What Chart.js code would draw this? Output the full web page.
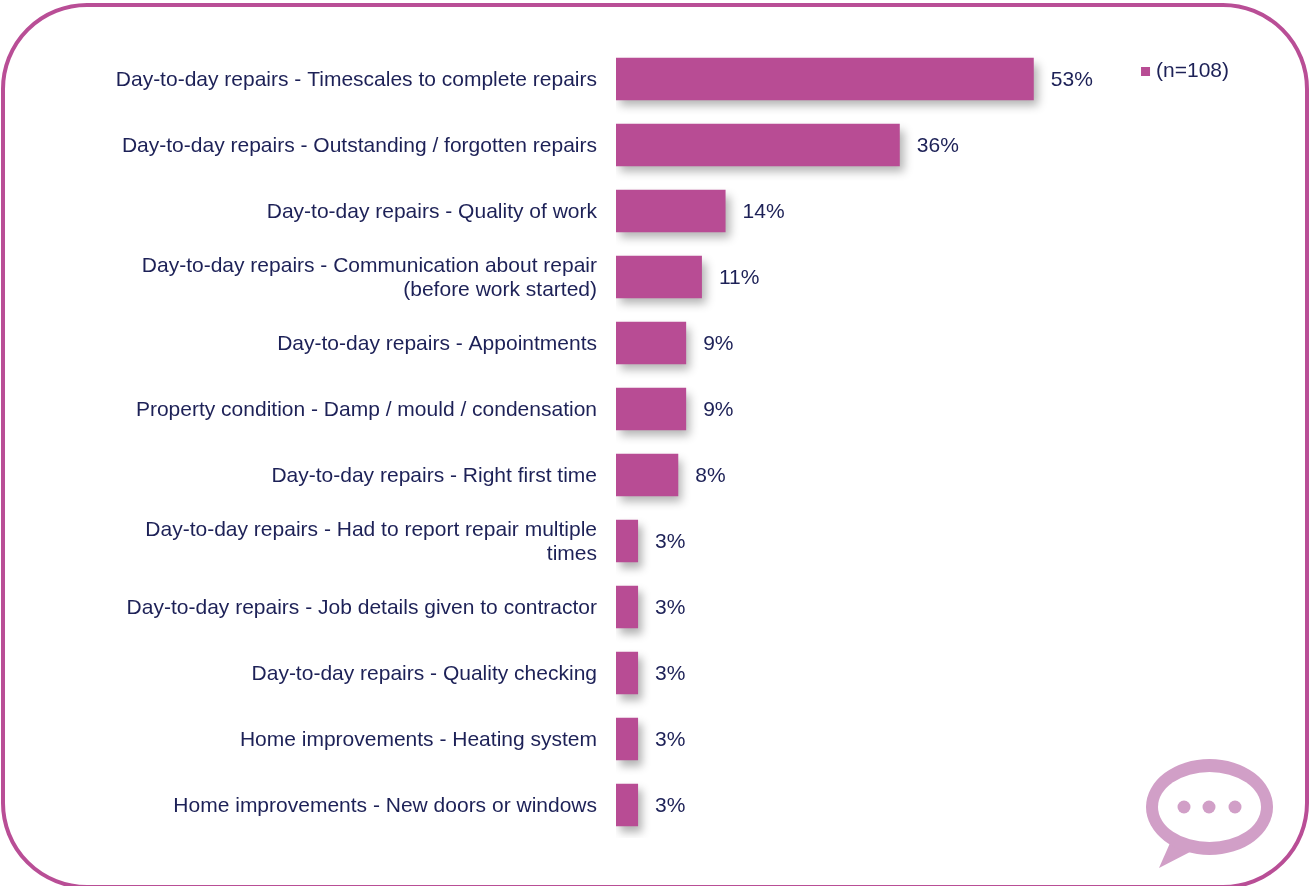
<!DOCTYPE html>
<html lang="en">
  <head>
    <meta charset="UTF-8" />
    <title>Repairs chart</title>
    <script src="https://cdn.jsdelivr.net/npm/chart.js"></script>
    <style>
      * {
        margin: 0;
        padding: 0;
        box-sizing: border-box;
      }

      body {
        width: 1311px;
        height: 886px;
        overflow: hidden;
        background: #fff;
      }

      .frame {
        position: absolute;
        left: 1px;
        top: 3px;
        width: 1308px;
        height: 886px;
        border: 4px solid #b94e96;
        border-radius: 86px;
      }

      .chart-box {
        position: absolute;
        left: 0;
        top: 0;
        width: 1311px;
        height: 886px;
      }

      .bubble {
        position: absolute;
        left: 1144px;
        top: 757px;
      }
    </style>
  </head>
  <body>
    <div class="frame"></div>
    <div class="chart-box"><canvas id="barChart"></canvas></div>

    <svg class="bubble" width="132" height="112" viewBox="0 0 132 112">
      <polygon points="26,86 15,111 46,95" fill="#d19fc7" />
      <ellipse cx="65.5" cy="50" rx="63.5" ry="48" fill="#d19fc7" />
      <ellipse cx="65.5" cy="50" rx="51.5" ry="35" fill="#fff" />
      <circle cx="40" cy="50" r="6.5" fill="#d19fc7" />
      <circle cx="65" cy="50" r="6.5" fill="#d19fc7" />
      <circle cx="91" cy="50" r="6.5" fill="#d19fc7" />
    </svg>

    <script>
      const categories = [
        "Day-to-day repairs - Timescales to complete repairs",
        "Day-to-day repairs - Outstanding / forgotten repairs",
        "Day-to-day repairs - Quality of work",
        ["Day-to-day repairs - Communication about repair", "(before work started)"],
        "Day-to-day repairs - Appointments",
        "Property condition - Damp / mould / condensation",
        "Day-to-day repairs - Right first time",
        ["Day-to-day repairs - Had to report repair multiple", "times"],
        "Day-to-day repairs - Job details given to contractor",
        "Day-to-day repairs - Quality checking",
        "Home improvements - Heating system",
        "Home improvements - New doors or windows",
      ];
      const values = [53, 36, 13.9, 10.9, 8.9, 8.9, 7.9, 2.8, 2.8, 2.8, 2.8, 2.8];
      const seriesName = "(n=108)";

      const textColor = "#1d2157";
      const barColor = "#b84c94";

      // axis text and legend sit 1px lower than the bars' centre
      const nudgeText = {
        id: "nudgeText",
        beforeDraw(chart) {
          chart.ctx.save();
          chart.ctx.translate(0, 1);
        },
        beforeDatasetsDraw(chart) {
          chart.ctx.restore();
        },
      };

      // shadow only while the bars are painted
      const barShadow = {
        id: "barShadow",
        beforeDatasetsDraw(chart) {
          const ctx = chart.ctx;
          ctx.save();
          ctx.shadowColor = "rgba(0, 0, 0, 0.3)";
          ctx.shadowBlur = 9;
          ctx.shadowOffsetX = 4;
          ctx.shadowOffsetY = 6;
        },
        afterDatasetsDraw(chart) {
          chart.ctx.restore();
        },
      };

      const valueLabels = {
        id: "valueLabels",
        afterDraw(chart) {
          const ctx = chart.ctx;
          ctx.save();
          ctx.font = '21px "Liberation Sans"';
          ctx.fillStyle = textColor;
          ctx.textBaseline = "middle";
          chart.getDatasetMeta(0).data.forEach((bar, i) => {
            ctx.fillText(Math.round(values[i]) + "%", bar.x + 17, bar.y + 1);
          });
          ctx.restore();
        },
      };

      new Chart(document.getElementById("barChart"), {
        type: "bar",
        data: {
          labels: categories,
          datasets: [
            {
              label: seriesName,
              data: values,
              backgroundColor: barColor,
              barPercentage: 0.7,
              categoryPercentage: 0.92,
            },
          ],
        },
        options: {
          indexAxis: "y",
          responsive: true,
          maintainAspectRatio: false,
          animation: false,
          layout: {
            padding: { top: 46, bottom: 48, right: 72 },
          },
          scales: {
            x: {
              display: false,
              min: 0,
              max: 65.4,
            },
            y: {
              afterFit(scale) {
                scale.width = 616;
              },
              grid: { display: false, drawTicks: false },
              border: { display: false },
              ticks: {
                color: textColor,
                padding: 19,
                autoSkip: false,
                font: { family: "Liberation Sans", size: 21, lineHeight: 1.143 },
              },
            },
          },
          plugins: {
            tooltip: { enabled: false },
            legend: {
              position: "right",
              align: "start",
              labels: {
                color: textColor,
                usePointStyle: true,
                pointStyle: "rect",
                boxWidth: 0.01,
                boxHeight: 9,
                padding: 14,
                font: { family: "Liberation Sans", size: 21 },
              },
            },
          },
        },
        plugins: [nudgeText, barShadow, valueLabels],
      });
    </script>
  </body>
</html>
